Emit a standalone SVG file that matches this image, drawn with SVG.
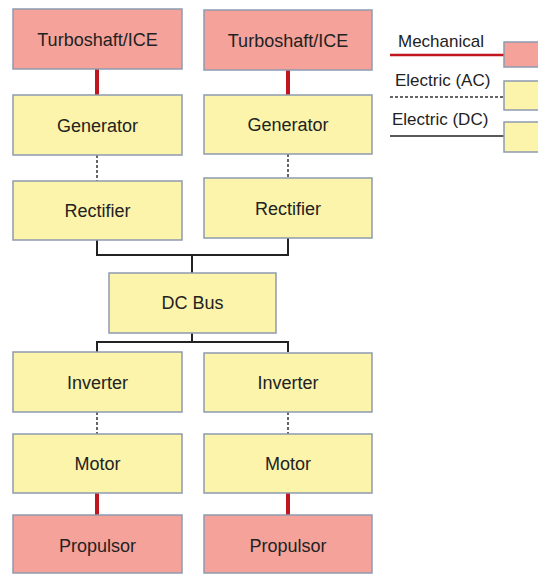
<svg xmlns="http://www.w3.org/2000/svg" width="538" height="574" viewBox="0 0 538 574">
<style>
.box{stroke:#8d9bb0;stroke-width:1.5}
.mech{fill:#f5a29b}
.elec{fill:#fbf4aa}
.t{font-family:"Liberation Sans",Arial,sans-serif;font-size:18px;fill:#222;text-anchor:middle}
.lt{font-family:"Liberation Sans",Arial,sans-serif;font-size:17px;fill:#222}
.m{stroke:#c0141e;stroke-width:4;fill:none}
.ac{stroke:#333;stroke-width:1.5;stroke-dasharray:3 2;fill:none}
.dc{stroke:#222;stroke-width:2;fill:none}
</style>
<rect width="538" height="574" fill="#ffffff"/>
<g id="connectors">
<line class="m" x1="97" y1="69" x2="97" y2="95"/>
<line class="m" x1="288" y1="70" x2="288" y2="95"/>
<line class="ac" x1="97" y1="155" x2="97" y2="181"/>
<line class="ac" x1="288" y1="154" x2="288" y2="178"/>
<polyline class="dc" points="97,240 97,255 288,255 288,238"/>
<line class="dc" x1="192" y1="255" x2="192" y2="273"/>
<line class="dc" x1="192" y1="333" x2="192" y2="342"/>
<polyline class="dc" points="97,352 97,342 288,342 288,352"/>
<line class="ac" x1="97" y1="412" x2="97" y2="434"/>
<line class="ac" x1="288" y1="412" x2="288" y2="434"/>
<line class="m" x1="97" y1="493" x2="97" y2="515"/>
<line class="m" x1="288" y1="493" x2="288" y2="515"/>
</g>
<g id="turbo1"><rect class="box mech" x="13" y="9" width="169" height="60"/><text class="t" x="97.5" y="46">Turboshaft/ICE</text></g>
<g id="turbo2"><rect class="box mech" x="204" y="10" width="168" height="60"/><text class="t" x="288" y="47">Turboshaft/ICE</text></g>
<g id="gen1"><rect class="box elec" x="13" y="95" width="169" height="60"/><text class="t" x="97.5" y="132">Generator</text></g>
<g id="gen2"><rect class="box elec" x="204" y="95" width="168" height="59"/><text class="t" x="288" y="131">Generator</text></g>
<g id="rect1"><rect class="box elec" x="13" y="181" width="169" height="59"/><text class="t" x="97.5" y="217">Rectifier</text></g>
<g id="rect2"><rect class="box elec" x="204" y="178" width="168" height="60"/><text class="t" x="288" y="215">Rectifier</text></g>
<g id="dcbus"><rect class="box elec" x="109" y="273" width="167" height="60"/><text class="t" x="192.5" y="309">DC Bus</text></g>
<g id="inv1"><rect class="box elec" x="13" y="352" width="169" height="60"/><text class="t" x="97.5" y="389">Inverter</text></g>
<g id="inv2"><rect class="box elec" x="204" y="353" width="168" height="59"/><text class="t" x="288" y="389">Inverter</text></g>
<g id="mot1"><rect class="box elec" x="13" y="434" width="169" height="59"/><text class="t" x="97.5" y="470">Motor</text></g>
<g id="mot2"><rect class="box elec" x="204" y="434" width="168" height="59"/><text class="t" x="288" y="470">Motor</text></g>
<g id="prop1"><rect class="box mech" x="13" y="515" width="169" height="58"/><text class="t" x="97.5" y="552">Propulsor</text></g>
<g id="prop2"><rect class="box mech" x="204" y="515" width="168" height="58"/><text class="t" x="288" y="552">Propulsor</text></g>
<g id="legend">
<text class="lt" x="398" y="47">Mechanical</text>
<line stroke="#c0141e" stroke-width="2.5" x1="390" y1="55" x2="504" y2="55"/>
<rect class="box mech" x="504" y="42" width="40" height="25"/>
<text class="lt" x="395" y="86">Electric (AC)</text>
<line class="ac" x1="390" y1="97" x2="504" y2="97"/>
<rect class="box elec" x="504" y="81" width="40" height="29"/>
<text class="lt" x="392" y="125">Electric (DC)</text>
<line stroke="#222" stroke-width="1.5" x1="390" y1="136" x2="504" y2="136"/>
<rect class="box elec" x="504" y="122" width="40" height="30"/>
</g>
</svg>
